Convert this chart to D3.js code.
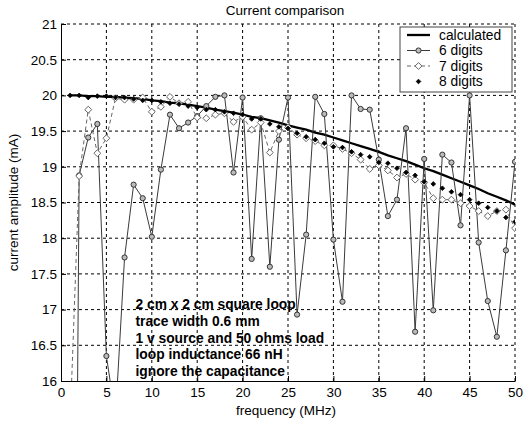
<!DOCTYPE html>
<html>
<head>
<meta charset="utf-8">
<script src="https://cdn.jsdelivr.net/npm/d3@7"></script>
<style>
  body { margin: 0; background: #fff; }
  svg { font-family: "Liberation Sans", Arial, sans-serif; }
</style>
</head>
<body>
<div id="chart"></div>
<script>
// 1: DATA
const freq = [1, 2, 3, 4, 5, 6, 7, 8, 9, 10, 11, 12, 13, 14, 15, 16, 17, 18, 19, 20,
  21, 22, 23, 24, 25, 26, 27, 28, 29, 30, 31, 32, 33, 34, 35, 36, 37, 38, 39, 40,
  41, 42, 43, 44, 45, 46, 47, 48, 49, 50];

const calculated = [20.00, 20.00, 19.99, 19.99, 19.98, 19.98, 19.97, 19.96, 19.95, 19.93,
  19.92, 19.90, 19.89, 19.87, 19.85, 19.83, 19.80, 19.78, 19.76, 19.73,
  19.70, 19.68, 19.65, 19.62, 19.58, 19.55, 19.52, 19.48, 19.45, 19.41,
  19.37, 19.33, 19.29, 19.25, 19.21, 19.16, 19.12, 19.08, 19.03, 18.98,
  18.94, 18.89, 18.84, 18.79, 18.74, 18.69, 18.63, 18.58, 18.53, 18.47];

const digits6 = [2.0, 18.88, 19.41, 19.60, 16.35, 15.5, 17.73, 18.75, 18.56, 18.02,
  18.96, 19.73, 19.54, 19.62, 19.71, 19.85, 19.98, 20.00, 18.92, 19.97,
  17.71, 19.68, 17.60, 19.38, 19.97, 16.93, 18.05, 19.98, 19.74, 17.98,
  17.11, 20.00, 19.81, 19.80, 19.10, 18.31, 18.54, 19.54, 16.69, 19.11,
  16.99, 19.17, 19.06, 18.18, 20.00, 17.94, 17.12, 16.62, 17.83, 19.07];

const digits7 = [15.4, 18.87, 19.80, 19.19, 19.40, 19.96, 19.94, 19.94, 19.97, 19.77,
  19.84, 19.98, 19.89, 19.91, 19.69, 19.68, 19.73, 19.75, 19.63, 19.70,
  19.52, 19.62, 19.20, 19.50, 19.55, 19.45, 19.40, 19.36, 19.30, 19.30,
  19.25, 19.19, 19.10, 18.97, 19.02, 18.95, 18.85, 18.90, 18.82, 18.78,
  18.56, 18.54, 18.54, 18.49, 18.45, 18.38, 18.31, 18.38, 18.40, 18.14];

const digits8 = [20.00, 20.00, 19.97, 19.99, 19.99, 19.97, 19.97, 19.95, 19.93, 19.93,
  19.91, 19.89, 19.88, 19.85, 19.83, 19.80, 19.80, 19.77, 19.75, 19.73,
  19.67, 19.67, 19.60, 19.56, 19.54, 19.47, 19.42, 19.38, 19.33, 19.28,
  19.27, 19.21, 19.17, 19.14, 19.06, 19.05, 18.98, 18.92, 18.88, 18.79,
  18.76, 18.70, 18.65, 18.61, 18.54, 18.49, 18.43, 18.38, 18.29, 18.23];

const xTicks = [0, 5, 10, 15, 20, 25, 30, 35, 40, 45, 50];
const yTicks = [16, 16.5, 17, 17.5, 18, 18.5, 19, 19.5, 20, 20.5, 21];

const legendLabels = ["calculated", "6 digits", "7 digits", "8 digits"];

const notes = ["2 cm x 2 cm square loop", "trace width 0.6 mm", "1 v source and 50 ohms load",
  "loop inductance 66 nH", "ignore the capacitance"];

// 2: LAYOUT
const W = 530, H = 422;
const margin = { top: 24, right: 15, bottom: 41, left: 61 };
const width = W - margin.left - margin.right;
const height = H - margin.top - margin.bottom;

const svg = d3.select("#chart").append("svg")
  .attr("width", W)
  .attr("height", H);

const g = svg.append("g")
  .attr("transform", `translate(${margin.left},${margin.top})`);

// 3: SCALES
const x = d3.scaleLinear().domain([0, 50]).range([0, width]);
const y = d3.scaleLinear().domain([16, 21]).range([height, 0]);

svg.append("defs").append("clipPath").attr("id", "plotclip")
  .append("rect").attr("width", width).attr("height", height);

// 4: GRID (dotted like matlab)
g.append("g").selectAll("line").data(xTicks.slice(1)).join("line")
  .attr("x1", d => x(d)).attr("x2", d => x(d))
  .attr("y1", 0).attr("y2", height)
  .attr("stroke", "#000").attr("stroke-width", 1)
  .attr("stroke-dasharray", "3,3");

g.append("g").selectAll("line").data(yTicks.slice(1)).join("line")
  .attr("x1", 0).attr("x2", width)
  .attr("y1", d => y(d)).attr("y2", d => y(d))
  .attr("stroke", "#000").attr("stroke-width", 1)
  .attr("stroke-dasharray", "3,3");

// 5: AXES
const xAxis = g.append("g")
  .attr("transform", `translate(0,${height})`)
  .call(d3.axisBottom(x).tickValues(xTicks).tickSizeInner(-5).tickSizeOuter(0).tickPadding(6));
const yAxis = g.append("g")
  .call(d3.axisLeft(y).tickValues(yTicks).tickFormat(d => d).tickSizeInner(-5).tickSizeOuter(0).tickPadding(4));

[xAxis, yAxis].forEach(a => {
  a.select(".domain").attr("stroke", "#000");
  a.selectAll(".tick line").attr("stroke", "#000");
  a.selectAll("text").attr("font-size", 13.5).attr("fill", "#000")
    .attr("font-family", "'Liberation Sans', Arial, sans-serif");
});

// 6: SERIES
const plot = g.append("g").attr("clip-path", "url(#plotclip)");
const toPts = vals => freq.map((f, i) => ({ f: f, v: vals[i] }));
const line = d3.line().x(d => x(d.f)).y(d => y(d.v));
const inside = d => d.v >= 16 && d.v <= 21;

// calculated
plot.append("path").datum(toPts(calculated))
  .attr("d", line).attr("fill", "none")
  .attr("stroke", "#000").attr("stroke-width", 2.3);

// 6 digits
plot.append("path").datum(toPts(digits6))
  .attr("d", line).attr("fill", "none")
  .attr("stroke", "#3a3a3a").attr("stroke-width", 1);
plot.append("g").selectAll("circle").data(toPts(digits6).filter(inside)).join("circle")
  .attr("cx", d => x(d.f)).attr("cy", d => y(d.v)).attr("r", 2.6)
  .attr("fill", "#bbb").attr("stroke", "#333").attr("stroke-width", 1);

// 7 digits
plot.append("path").datum(toPts(digits7))
  .attr("d", line).attr("fill", "none")
  .attr("stroke", "#666").attr("stroke-width", 1)
  .attr("stroke-dasharray", "4,3");
const diamond = d3.symbol().type(d3.symbolDiamond2).size(30);
plot.append("g").selectAll("path").data(toPts(digits7).filter(inside)).join("path")
  .attr("transform", d => `translate(${x(d.f)},${y(d.v)})`)
  .attr("d", diamond)
  .attr("fill", "#fff").attr("stroke", "#666").attr("stroke-width", 1);

// 8 digits
const dot = d3.symbol().type(d3.symbolDiamond2).size(14);
plot.append("g").selectAll("path").data(toPts(digits8).filter(inside)).join("path")
  .attr("transform", d => `translate(${x(d.f)},${y(d.v)})`)
  .attr("d", dot)
  .attr("fill", "#000").attr("stroke", "#000").attr("stroke-width", 0.8);

// 7: TEXT
svg.append("text")
  .attr("x", margin.left + width / 2 - 3).attr("y", 15)
  .attr("text-anchor", "middle").attr("font-size", 13.5)
  .text("Current comparison");

svg.append("text")
  .attr("x", margin.left + width / 2 - 2).attr("y", 415)
  .attr("text-anchor", "middle").attr("font-size", 13.5)
  .text("frequency (MHz)");

svg.append("text")
  .attr("transform", "rotate(-90)")
  .attr("x", -(margin.top + height / 2)).attr("y", 18)
  .attr("text-anchor", "middle").attr("font-size", 13.5)
  .text("current amplitude (mA)");

g.append("g").selectAll("text").data(notes).join("text")
  .attr("x", x(8.2))
  .attr("y", (d, i) => 285 + i * 16.8)
  .attr("font-size", 13.8).attr("font-weight", "bold")
  .text(d => d);

// 8: LEGEND
const legend = svg.append("g").attr("transform", "translate(400,27)");
legend.append("rect")
  .attr("width", 112).attr("height", 65)
  .attr("fill", "#fff").attr("stroke", "#444").attr("stroke-width", 1);

const rows = legend.selectAll("g.item").data(legendLabels).join("g")
  .attr("class", "item")
  .attr("transform", (d, i) => `translate(0,${8 + i * 15.5})`);

rows.append("text")
  .attr("x", 39).attr("y", 0).attr("dy", "0.35em")
  .attr("font-size", 13.8)
  .text(d => d);

rows.filter((d, i) => i === 0).append("line")
  .attr("x1", 7).attr("x2", 30).attr("stroke", "#000").attr("stroke-width", 2.3);
rows.filter((d, i) => i === 1).append("line")
  .attr("x1", 7).attr("x2", 30).attr("stroke", "#3a3a3a").attr("stroke-width", 1);
rows.filter((d, i) => i === 1).append("circle")
  .attr("cx", 18.5).attr("r", 2.6).attr("fill", "#bbb").attr("stroke", "#333");
rows.filter((d, i) => i === 2).append("line")
  .attr("x1", 7).attr("x2", 30).attr("stroke", "#666").attr("stroke-dasharray", "4,3");
rows.filter((d, i) => i === 2).append("path")
  .attr("transform", "translate(18.5,0)").attr("d", diamond)
  .attr("fill", "#fff").attr("stroke", "#666");
rows.filter((d, i) => i === 3).append("path")
  .attr("transform", "translate(18.5,0)").attr("d", dot)
  .attr("fill", "#000").attr("stroke", "#000").attr("stroke-width", 0.8);
</script>
</body>
</html>
